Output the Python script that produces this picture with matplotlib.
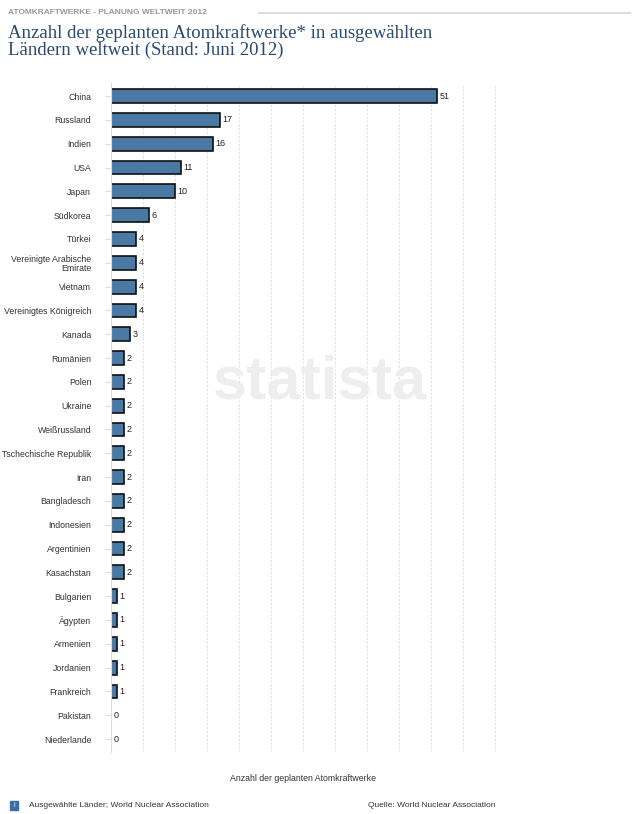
import matplotlib.pyplot as plt
from matplotlib.patches import Rectangle

countries = ["China", "Russland", "Indien", "USA", "Japan", "Südkorea", "Türkei",
             "Vereinigte Arabische\nEmirate", "Vietnam", "Vereinigtes Königreich", "Kanada",
             "Rumänien", "Polen", "Ukraine", "Weißrussland", "Tschechische Republik", "Iran",
             "Bangladesch", "Indonesien", "Argentinien", "Kasachstan", "Bulgarien", "Ägypten",
             "Armenien", "Jordanien", "Frankreich", "Pakistan", "Niederlande"]
values = [51, 17, 16, 11, 10, 6, 4, 4, 4, 4, 3, 2, 2, 2, 2, 2, 2, 2, 2, 2, 2,
          1, 1, 1, 1, 1, 0, 0]
grid_ticks = list(range(5, 61, 5))

plt.rcParams['font.family'] = ['Liberation Sans', 'DejaVu Sans']
fig = plt.figure(figsize=(6.4, 8.14), dpi=100)
ax = fig.add_axes([0.173, 0.076, 0.602, 0.822])

y = list(range(len(countries)))
ax.barh(y, values, height=0.58, color="#4a79a5", edgecolor="#111111", linewidth=1.2)
for yi, v in zip(y, values):
    ax.text(v + 0.4, yi, str(v), va="center", ha="left", fontsize=6.5, color="#222222")

ax.set_xlim(0, 60.2)
ax.set_ylim(len(countries) - 0.45, -0.55)
ax.set_yticks(y)
ax.set_yticklabels(countries, fontsize=6.3, color="#333333", linespacing=1.0)
ax.set_xticks(grid_ticks)
ax.set_xticklabels([])
ax.tick_params(axis="x", length=0)
ax.tick_params(axis="y", length=4, color="#dddddd", pad=10)
ax.grid(axis="x", color="#dddddd", linestyle=(0, (2, 2)), linewidth=0.7)
ax.set_axisbelow(True)
for s in ["top", "right", "bottom"]:
    ax.spines[s].set_visible(False)
ax.spines["left"].set_color("#dddddd")
ax.set_xlabel("Anzahl der geplanten Atomkraftwerke", fontsize=6.3, color="#333333", labelpad=12)

fig.text(0.5, 0.53, "statista", fontsize=44, fontweight="bold", color="#eeeeee",
         ha="center", va="center", zorder=0)

fig.text(0.012, 0.985, "ATOMKRAFTWERKE - PLANUNG WELTWEIT 2012", fontsize=6,
         color="#999999", fontweight="bold", va="center")
fig.add_artist(plt.Line2D([0.405, 0.985], [0.984, 0.984], color="#dddddd", linewidth=1.5))
fig.text(0.012, 0.949, "Anzahl der geplanten Atomkraftwerke* in ausgewählten\nLändern weltweit (Stand: Juni 2012)",
         fontsize=13.5, family=["Liberation Serif", "DejaVu Serif"], color="#2b4a70",
         va="center", linespacing=0.95)

fig.add_artist(Rectangle((0.016, 0.005), 0.012, 0.011, color="#3b6ea5",
                         transform=fig.transFigure))
fig.text(0.022, 0.0105, "i", fontsize=5, color="white", ha="center", va="center")
fig.text(0.045, 0.0105, "Ausgewählte Länder; World Nuclear Association", fontsize=6,
         color="#333333", va="center")
fig.text(0.775, 0.0105, "Quelle: World Nuclear Association", fontsize=6,
         color="#333333", va="center", ha="right")

fig.savefig("out.png", dpi=100, facecolor="white")
